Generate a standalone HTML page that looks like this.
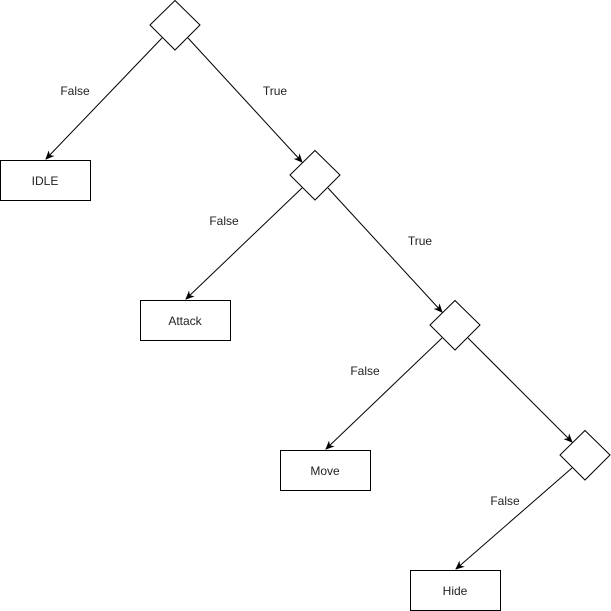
<!DOCTYPE html>
<html><head><style>
html,body{margin:0;padding:0;background:#fff;}
svg{display:block;}
text{font-family:"Liberation Sans",sans-serif;font-size:12px;fill:#222;}
</style></head><body>
<svg width="611" height="611" viewBox="0 0 611 611">
<defs><marker id="a" markerWidth="10" markerHeight="10" refX="8" refY="5" orient="auto" markerUnits="userSpaceOnUse"><path d="M0,1 L9,5 L0,9 L2.5,5 Z" fill="#000"/></marker></defs>
<g fill="#fff" stroke="#000" stroke-width="1">
<polygon points="175,0.5 200,25 175,50 150,25"/>
<polygon points="315,150.5 340,175 315,200 290,175"/>
<polygon points="455,300.5 480,325 455,350 430,325"/>
<polygon points="585,430.5 610,455 585,480 560,455"/>
<rect x="0.5" y="160.5" width="90" height="40"/>
<rect x="140.5" y="300.5" width="90" height="40"/>
<rect x="280.5" y="450.5" width="90" height="40"/>
<rect x="410.5" y="570.5" width="90" height="40"/>
</g>
<g stroke="#000" stroke-width="1" marker-end="url(#a)">
<line x1="162" y1="38" x2="46" y2="159"/>
<line x1="188" y1="38" x2="302" y2="162"/>
<line x1="302" y1="188" x2="186" y2="299"/>
<line x1="328" y1="188" x2="442" y2="312"/>
<line x1="442" y1="338" x2="326" y2="449"/>
<line x1="468" y1="338" x2="572" y2="442"/>
<line x1="572" y1="468" x2="456" y2="569"/>
</g>
<g text-anchor="middle">
<text x="75" y="95">False</text><text x="275" y="95">True</text>
<text x="224" y="225">False</text><text x="420" y="245">True</text>
<text x="365" y="375">False</text><text x="505" y="505">False</text>
<text x="45" y="185">IDLE</text><text x="185" y="325">Attack</text>
<text x="325" y="475">Move</text><text x="455" y="595">Hide</text>
</g>
</svg>
</body></html>
